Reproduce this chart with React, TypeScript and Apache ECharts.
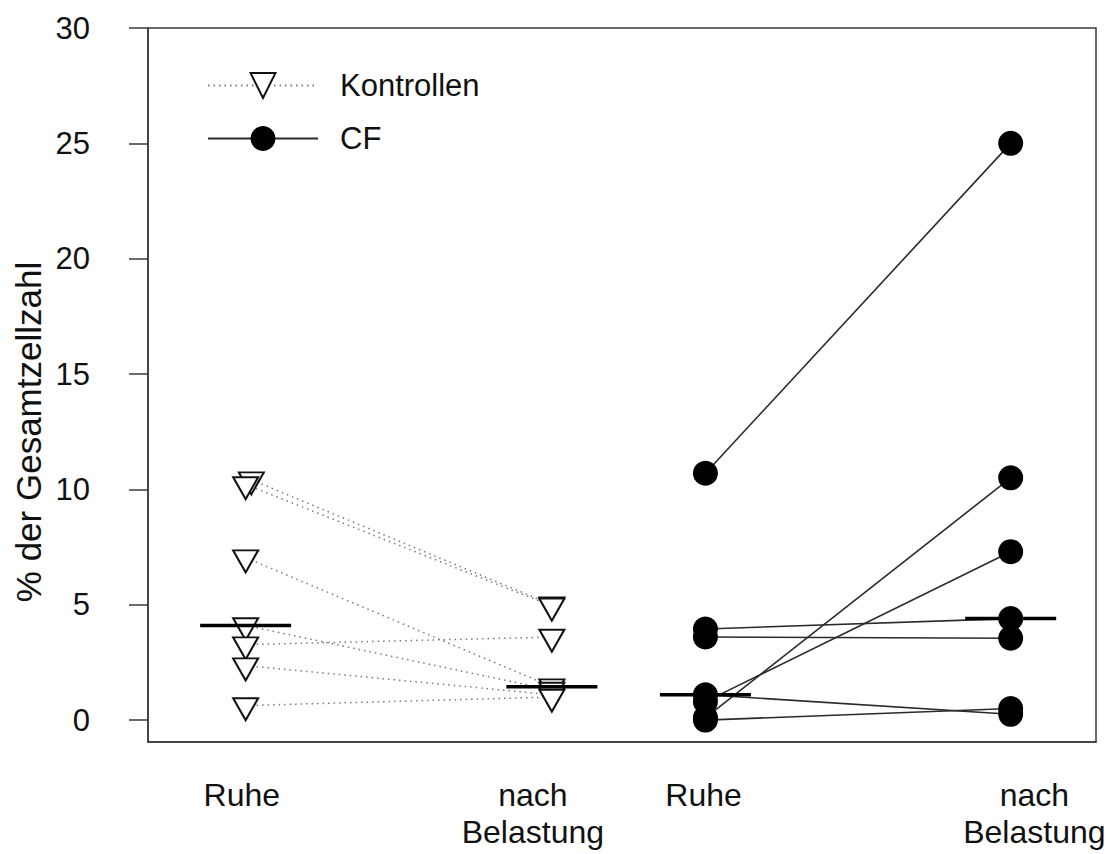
import React, { useEffect, useRef } from 'react';
import * as echarts from 'echarts';

// Category label texts and their positions on the x value axis
const CATEGORY_LABELS = ['Ruhe', 'nach\nBelastung', 'Ruhe', 'nach\nBelastung'];
const LABEL_X = [0.99, 4.06, 5.86, 9.35];
// x position of the groups: Kontrollen Ruhe, Kontrollen nach, CF Ruhe, CF nach
const GROUP_X = [1.03, 4.26, 5.88, 9.1];
const CTRL_REST_JITTER = [0.06, 0, 0, 0, 0, 0, 0];

// Kontrollen (paired: rest -> after exercise)
const CTRL_REST = [10.42, 10.21, 7.04, 4.1, 3.27, 2.36, 0.63];
const CTRL_POST = [5.0, 4.95, 1.45, 1.3, 3.6, 1.1, 1.0];
// CF (paired: rest -> after exercise)
const CF_REST = [10.7, 3.95, 3.6, 1.1, 0.8, 0.1, 0.0];
const CF_POST = [25.0, 4.4, 3.55, 0.25, 7.3, 10.5, 0.5];

const Y_TICKS = [0, 5, 10, 15, 20, 25, 30];
const Y_MIN = -0.95;
const Y_MAX = 30;
const X_MIN = 0;
const X_MAX = 10;

const FONT = "'Liberation Sans', Arial, Helvetica, sans-serif";
const TRI = 'path://M0,0L24,0L12,21Z';

function median(arr: number[]): number {
  const s = [...arr].sort((a, b) => a - b);
  const m = Math.floor(s.length / 2);
  return s.length % 2 ? s[m] : (s[m - 1] + s[m]) / 2;
}

export default function App() {
  const ref = useRef<HTMLDivElement>(null);

  useEffect(() => {
    if (!ref.current) return;
    const chart = echarts.init(ref.current, null, { renderer: 'svg' });

    const series: any[] = [];
    CTRL_REST.forEach((r, i) => {
      series.push({
        type: 'line',
        name: 'Kontrollen',
        data: [
          [GROUP_X[0] + CTRL_REST_JITTER[i], r],
          [GROUP_X[1], CTRL_POST[i]],
        ],
        symbol: TRI,
        symbolSize: [25, 22],
        symbolOffset: [0, 3.7],
        itemStyle: { color: '#ffffff', borderColor: '#111', borderWidth: 2 },
        lineStyle: { color: '#7a7a7a', width: 1.5, type: [1.5, 4] },
        z: 2,
        silent: true,
      });
    });
    CF_REST.forEach((r, i) => {
      series.push({
        type: 'line',
        name: 'CF',
        data: [
          [GROUP_X[2], r],
          [GROUP_X[3], CF_POST[i]],
        ],
        symbol: 'circle',
        symbolSize: 25,
        itemStyle: { color: '#000', borderColor: '#000', borderWidth: 0 },
        lineStyle: { color: '#2a2a2a', width: 1.6, type: 'solid' },
        z: 3,
        silent: true,
      });
    });
    const groups = [CTRL_REST, CTRL_POST, CF_REST, CF_POST];
    groups.forEach((g, k) => {
      const m = median(g);
      series.push({
        type: 'line',
        data: [
          [GROUP_X[k] - 0.48, m],
          [GROUP_X[k] + 0.48, m],
        ],
        symbol: 'none',
        lineStyle: { color: '#000', width: 3.5 },
        z: 6,
        silent: true,
      });
    });

    const option: any = {
      animation: false,
      backgroundColor: '#fff',
      grid: {
        left: 148,
        right: 15,
        top: 28,
        bottom: 112,
        show: true,
        borderColor: '#3a3a3a',
        borderWidth: 1.5,
        backgroundColor: 'transparent',
      },
      legend: {
        data: ['Kontrollen', 'CF'],
        orient: 'vertical',
        left: 202,
        top: 65,
        itemWidth: 110,
        itemHeight: 31,
        itemGap: 22,
        selectedMode: false,
        textStyle: { fontSize: 31, fontFamily: FONT, color: '#111', padding: [0, 0, 0, 17] },
      },
      xAxis: {
        type: 'value',
        min: X_MIN,
        max: X_MAX,
        axisLine: { show: true, onZero: false, lineStyle: { color: '#3a3a3a', width: 1.5 } },
        axisTick: { show: false },
        splitLine: { show: false },
        axisLabel: {
          customValues: LABEL_X,
          formatter: (v: number) => {
            const i = LABEL_X.findIndex((x) => Math.abs(x - v) < 1e-6);
            return i >= 0 ? CATEGORY_LABELS[i] : '';
          },
          fontSize: 32,
          lineHeight: 37,
          margin: 34,
          color: '#111',
          fontFamily: FONT,
        },
      },
      yAxis: {
        type: 'value',
        min: Y_MIN,
        max: Y_MAX,
        axisLine: { show: true, onZero: false, lineStyle: { color: '#3a3a3a', width: 1.5 } },
        axisTick: {
          show: true,
          customValues: Y_TICKS,
          length: 19,
          lineStyle: { color: '#3a3a3a', width: 1.5 },
        },
        splitLine: { show: false },
        axisLabel: {
          customValues: Y_TICKS,
          fontSize: 31,
          margin: 58,
          color: '#111',
          fontFamily: FONT,
        },
      },
      graphic: [
        {
          type: 'text',
          x: 28,
          y: 432,
          rotation: Math.PI / 2,
          style: {
            text: '% der Gesamtzellzahl',
            fontSize: 35,
            fontFamily: FONT,
            fill: '#111',
            align: 'center',
            verticalAlign: 'middle',
            textAlign: 'center',
            textVerticalAlign: 'middle',
          },
        },
      ],
      series,
    };

    chart.setOption(option);
    return () => chart.dispose();
  }, []);

  return (
    <div
      ref={ref}
      style={{ position: 'fixed', left: 0, top: 0, width: 1111, height: 854, background: '#fff' }}
    />
  );
}
